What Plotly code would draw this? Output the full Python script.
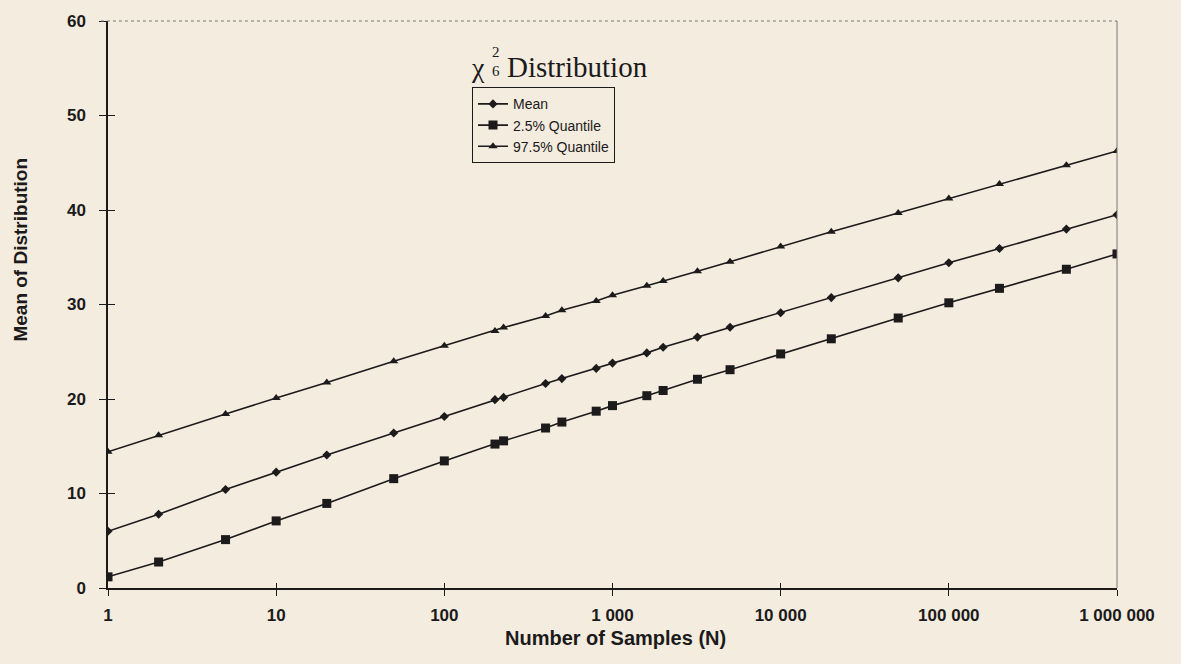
import plotly.graph_objects as go

# ---- data ----
N = [1, 2, 5, 10, 20, 50, 100, 200, 225, 400, 500, 800, 1000, 1600, 2000,
     3200, 5000, 10000, 20000, 50000, 100000, 200000, 500000, 1000000]

mean_vals = [6.0, 7.8, 10.42, 12.26, 14.07, 16.4, 18.15, 19.93, 20.17, 21.64,
             22.16, 23.24, 23.8, 24.88, 25.47, 26.55, 27.6, 29.13, 30.73,
             32.82, 34.42, 35.92, 37.98, 39.5]

q025_vals = [1.18, 2.75, 5.12, 7.1, 8.95, 11.57, 13.45, 15.23, 15.57, 16.93,
             17.56, 18.71, 19.3, 20.35, 20.9, 22.09, 23.1, 24.77, 26.37,
             28.57, 30.18, 31.71, 33.73, 35.35]

q975_vals = [14.42, 16.16, 18.42, 20.1, 21.74, 24.0, 25.64, 27.2, 27.56, 28.78,
             29.4, 30.38, 30.97, 31.98, 32.5, 33.52, 34.53, 36.13, 37.7,
             39.69, 41.22, 42.75, 44.74, 46.25]

x_tickvals = [1, 10, 100, 1000, 10000, 100000, 1000000]
x_ticktext = ["1", "10", "100", "1 000", "10 000", "100 000", "1 000 000"]
y_tickvals = [0, 10, 20, 30, 40, 50, 60]

BG = "#f3ecdf"
INK = "#1c1a1a"
SANS = "Liberation Sans, Arial, sans-serif"
SERIF = "Liberation Serif, Times New Roman, serif"

# plot area in pixels
L, R, T, B = 108, 1117, 15, 588
W, H = 1181, 664


def px(xp):
    return (xp - L) / (R - L)


def py(yp):
    return (B - yp) / (B - T)


fig = go.Figure()

series = [
    ("Mean", mean_vals, "diamond", 7),
    ("2.5% Quantile", q025_vals, "square", 9),
    ("97.5% Quantile", q975_vals, "triangle-up", 8),
]
for name, vals, sym, size in series:
    fig.add_trace(go.Scatter(
        x=N, y=vals, name=name, mode="lines+markers",
        line=dict(color=INK, width=1.6),
        marker=dict(symbol=sym, size=size, color=INK),
    ))

# helper trace so the overlay axes (inside tick halves) are drawn
fig.add_trace(go.Scatter(x=[], y=[], xaxis="x2", yaxis="y2",
                         showlegend=False, hoverinfo="skip"))

axis_font = dict(family=SANS, size=17, color=INK, weight="bold")

fig.update_layout(
    width=W, height=H,
    margin=dict(l=L, r=W - R, t=T, b=H - B),
    paper_bgcolor=BG, plot_bgcolor=BG,
    showlegend=True,
    xaxis=dict(
        type="log", range=[0, 6],
        tickvals=x_tickvals, ticktext=x_ticktext,
        ticks="outside", ticklen=6, tickwidth=1, tickcolor=INK,
        showline=True, linecolor=INK, linewidth=1.5,
        showgrid=False, zeroline=False,
        tickfont=axis_font, ticklabelstandoff=5,
    ),
    yaxis=dict(
        range=[0, 60], tickvals=y_tickvals,
        ticks="outside", ticklen=7, tickwidth=1, tickcolor=INK,
        showline=True, linecolor=INK, linewidth=1.5,
        showgrid=False, zeroline=False,
        tickfont=axis_font, ticklabelstandoff=10,
    ),
    xaxis2=dict(
        type="log", range=[0, 6], overlaying="x", anchor="y", side="bottom",
        tickvals=x_tickvals, showticklabels=False,
        ticks="inside", ticklen=5, tickwidth=1, tickcolor=INK,
        showline=False, showgrid=False, zeroline=False,
    ),
    yaxis2=dict(
        range=[0, 60], overlaying="y", anchor="x", side="left",
        tickvals=y_tickvals, showticklabels=False,
        ticks="inside", ticklen=7, tickwidth=1, tickcolor=INK,
        showline=False, showgrid=False, zeroline=False,
    ),
    legend=dict(
        x=px(472), y=py(82), xanchor="left", yanchor="top",
        bgcolor=BG, bordercolor=INK, borderwidth=1,
        font=dict(family=SANS, size=14, color=INK),
        tracegroupgap=0, itemwidth=30,
    ),
    shapes=[
        dict(type="line", xref="paper", yref="paper", x0=-0.007, x1=1, y0=1, y1=1,
             line=dict(color="#777777", width=1, dash="dot")),
        dict(type="line", xref="paper", yref="paper", x0=1, x1=1, y0=0, y1=1,
             line=dict(color="#777777", width=1)),
    ],
    annotations=[
        dict(text="χ", x=px(478), y=py(62), xref="paper", yref="paper",
             showarrow=False, xanchor="center", yanchor="middle",
             font=dict(family=SERIF, size=28, color=INK)),
        dict(text="2", x=px(496), y=py(46), xref="paper", yref="paper",
             showarrow=False, xanchor="center", yanchor="middle",
             font=dict(family=SERIF, size=15, color=INK)),
        dict(text="6", x=px(496), y=py(66), xref="paper", yref="paper",
             showarrow=False, xanchor="center", yanchor="middle",
             font=dict(family=SERIF, size=15, color=INK)),
        dict(text="Distribution", x=px(505), y=py(61), xref="paper", yref="paper",
             showarrow=False, xanchor="left", yanchor="middle",
             font=dict(family=SERIF, size=29, color=INK)),
        dict(text="Number of Samples (N)", x=px(615), y=py(639),
             xref="paper", yref="paper", showarrow=False,
             xanchor="center", yanchor="middle",
             font=dict(family=SANS, size=20, color=INK, weight="bold")),
        dict(text="Mean of Distribution", x=px(21), y=py(246),
             xref="paper", yref="paper", showarrow=False, textangle=-90,
             xanchor="center", yanchor="middle",
             font=dict(family=SANS, size=19, color=INK, weight="bold")),
    ],
)

fig.write_html("out.html")
